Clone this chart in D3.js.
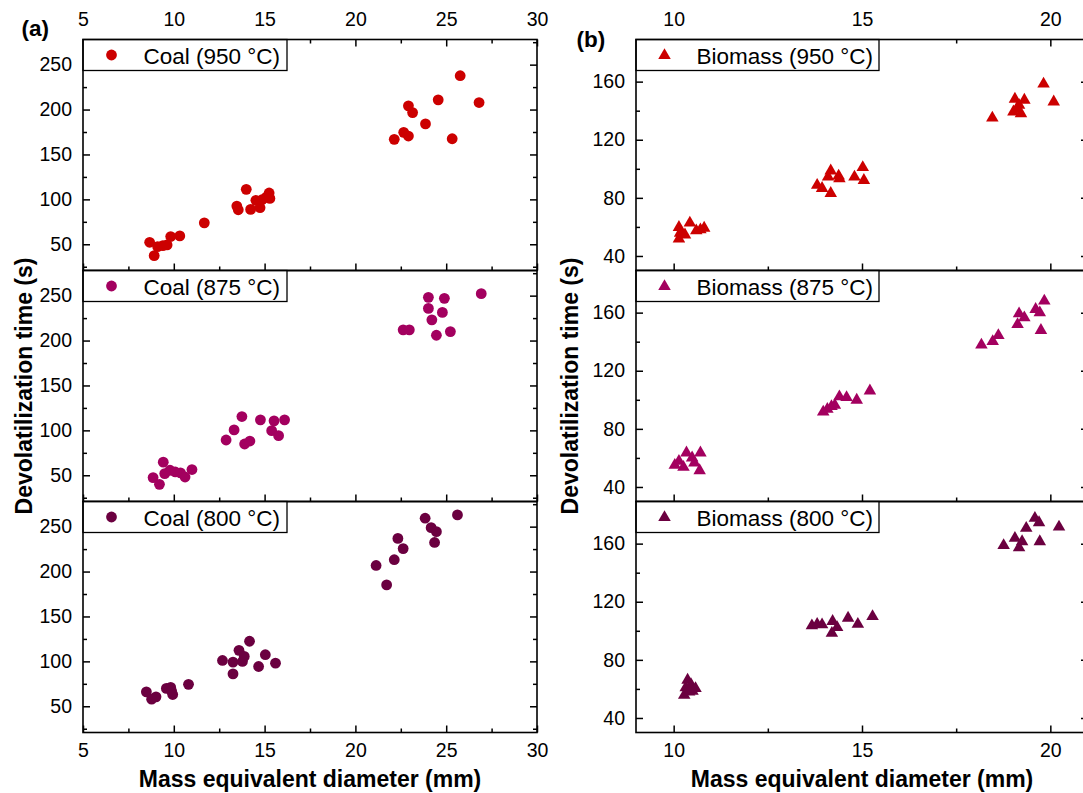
<!DOCTYPE html>
<html>
<head>
<meta charset="utf-8">
<script src="https://cdn.jsdelivr.net/npm/d3@7/dist/d3.min.js"></script>
<style>
  html, body { margin: 0; padding: 0; background: #fff; }
  svg { display: block; }
  text { font-family: "Liberation Sans", Arial, sans-serif; fill: #000; }
</style>
</head>
<body>
<svg id="chart" width="1083" height="793"></svg>
<script>
// ---------------- DATA ----------------
const coal950X = [8.67, 8.92, 9.11, 9.40, 9.63, 9.83, 10.33, 11.68, 13.47, 13.55, 13.99, 14.23, 14.52, 14.75, 14.86, 15.10, 15.25, 15.29, 22.14, 22.66, 22.92, 22.92, 23.15, 23.86, 24.56, 25.33, 25.77, 26.81];
const coal950Y = [52.2, 37.3, 47.4, 48.5, 49.3, 58.6, 59.3, 73.9, 92.5, 88.4, 111.2, 88.8, 98.9, 90.7, 99.6, 102.6, 107.1, 101.1, 166.8, 174.6, 170.5, 204.1, 196.6, 184.0, 210.8, 167.5, 237.7, 207.8];

const coal875X = [8.86, 9.21, 9.42, 9.50, 9.79, 10.08, 10.37, 10.62, 11.00, 12.88, 13.32, 13.75, 13.90, 14.19, 14.77, 15.39, 15.52, 15.77, 16.10, 22.63, 22.97, 24.02, 24.02, 24.21, 24.46, 24.79, 24.90, 25.23, 26.93];
const coal875Y = [47.4, 39.9, 64.6, 51.9, 55.6, 53.7, 52.6, 48.1, 56.4, 89.3, 100.5, 115.4, 84.8, 88.1, 111.7, 99.7, 110.6, 94.1, 111.7, 211.9, 211.9, 248.1, 235.8, 223.1, 205.9, 231.3, 247.0, 210.0, 252.2];

const coal800X = [8.49, 8.78, 9.02, 9.59, 9.83, 9.88, 9.94, 10.81, 12.68, 13.26, 13.26, 13.59, 13.78, 13.88, 14.17, 14.67, 15.04, 15.60, 21.14, 21.72, 22.14, 22.34, 22.63, 23.84, 24.17, 24.46, 24.36, 25.62];
const coal800Y = [66.1, 57.9, 60.5, 69.9, 71.0, 66.9, 63.1, 74.4, 101.0, 99.2, 86.0, 112.3, 99.9, 105.5, 122.4, 94.3, 107.4, 98.0, 206.8, 185.1, 213.2, 236.9, 225.6, 259.4, 248.9, 244.4, 232.4, 263.1];

const bio950X = [10.14, 10.17, 10.14, 10.30, 10.43, 10.60, 10.71, 10.81, 13.81, 13.94, 14.17, 14.10, 14.17, 14.38, 14.40, 14.80, 15.02, 15.05, 18.46, 19.02, 19.06, 19.11, 19.22, 19.17, 19.31, 19.82, 20.09];
const bio950Y = [51.8, 55.8, 59.7, 54.6, 62.7, 57.4, 58.1, 59.2, 88.7, 86.6, 83.1, 94.4, 98.6, 95.1, 93.3, 94.4, 100.9, 92.1, 135.0, 139.2, 148.0, 141.5, 138.0, 143.8, 147.3, 158.4, 146.1];

const bio875X = [10.03, 10.14, 10.26, 10.34, 10.49, 10.55, 10.69, 10.71, 13.97, 14.08, 14.19, 14.28, 14.40, 14.59, 14.86, 15.21, 18.17, 18.47, 18.62, 19.13, 19.17, 19.31, 19.61, 19.72, 19.75, 19.84];
const bio875Y = [55.0, 57.8, 53.6, 63.5, 60.1, 56.6, 51.3, 63.5, 91.7, 93.5, 95.4, 96.3, 102.1, 101.6, 99.8, 106.2, 137.8, 140.2, 144.3, 151.9, 159.3, 156.5, 162.3, 160.0, 147.8, 168.1];

const bio800X = [10.28, 10.37, 10.32, 10.46, 10.50, 10.58, 10.41, 13.67, 13.81, 13.94, 14.22, 14.20, 14.34, 14.63, 14.89, 15.28, 18.76, 19.06, 19.17, 19.25, 19.36, 19.59, 19.70, 19.72, 20.23];
const bio800Y = [55.7, 66.1, 60.8, 63.1, 58.5, 60.3, 58.0, 103.5, 104.6, 104.2, 106.5, 98.4, 102.3, 108.8, 104.6, 109.9, 158.8, 163.7, 157.2, 161.4, 170.6, 177.5, 174.5, 161.4, 171.5];

const coalLabels = ["Coal (950 °C)", "Coal (875 °C)", "Coal (800 °C)"];
const bioLabels = ["Biomass (950 °C)", "Biomass (875 °C)", "Biomass (800 °C)"];
const seriesColors = ["#cc0000", "#a3005f", "#6b0040"];

const coalXTicks = [5, 10, 15, 20, 25, 30];
const coalXMinor = [7.5, 12.5, 17.5, 22.5, 27.5];
const coalYTicks = [50, 100, 150, 200, 250];
const coalYMinor = [25, 75, 125, 175, 225, 275];
const bioXTicks = [10, 15, 20];
const bioXMinor = [12.5, 17.5];
const bioYTicks = [40, 80, 120, 160];
const bioYMinor = [60, 100, 140, 180];

const xTitle = "Mass equivalent diameter (mm)";
const yTitle = "Devolatilization time (s)";

// ---------------- LAYOUT ----------------
const svg = d3.select("#chart");
const FONT = '"Liberation Sans", Arial, sans-serif';
const rowTop = 39.5, rowH = 231;

const panels = [
  {
    key: "a", x0: 83, x1: 537, xDomain: [5, 30], yDomain: [20.8, 278],
    xTicks: coalXTicks, xMinor: coalXMinor, yTicks: coalYTicks, yMinor: coalYMinor,
    series: [[coal950X, coal950Y], [coal875X, coal875Y], [coal800X, coal800Y]],
    labels: coalLabels, shape: "circle", legendW: 204,
    tag: "(a)", tagX: 21.5, tagY: 36, yTitleX: 32
  },
  {
    key: "b", x0: 636, x1: 1088, xDomain: [9, 21], yDomain: [30, 189],
    xTicks: bioXTicks, xMinor: bioXMinor, yTicks: bioYTicks, yMinor: bioYMinor,
    series: [[bio950X, bio950Y], [bio875X, bio875Y], [bio800X, bio800Y]],
    labels: bioLabels, shape: "triangle", legendW: 243,
    tag: "(b)", tagX: 576.5, tagY: 46.5, yTitleX: 578
  }
];

const clip = svg.append("defs");

panels.forEach(p => {
  const x = d3.scaleLinear().domain(p.xDomain).range([p.x0, p.x1]);
  for (let r = 0; r < 3; r++) {
    const top = rowTop + r * rowH, bot = top + rowH;
    const y = d3.scaleLinear().domain(p.yDomain).range([bot, top]);
    const g = svg.append("g");
    const cid = "clip-" + p.key + r;
    clip.append("clipPath").attr("id", cid).append("rect")
      .attr("x", p.x0).attr("y", top).attr("width", p.x1 - p.x0).attr("height", rowH);

    // axes: left
    const axL = g.append("g").attr("transform", `translate(${p.x0},0)`)
      .call(d3.axisLeft(y).tickValues(p.yTicks).tickSize(-7).tickPadding(11));
    g.append("g").attr("transform", `translate(${p.x0},0)`)
      .call(d3.axisLeft(y).tickValues(p.yMinor).tickSize(-4).tickFormat(""));
    // right
    g.append("g").attr("transform", `translate(${p.x1},0)`)
      .call(d3.axisRight(y).tickValues(p.yTicks).tickSize(-7).tickFormat(""));
    g.append("g").attr("transform", `translate(${p.x1},0)`)
      .call(d3.axisRight(y).tickValues(p.yMinor).tickSize(-4).tickFormat(""));
    // bottom
    const bAx = d3.axisBottom(x).tickValues(p.xTicks).tickSize(-7).tickPadding(11);
    if (r < 2) bAx.tickFormat("");
    g.append("g").attr("transform", `translate(0,${bot})`).call(bAx);
    g.append("g").attr("transform", `translate(0,${bot})`)
      .call(d3.axisBottom(x).tickValues(p.xMinor).tickSize(-4).tickFormat(""));
    // top (only first row)
    if (r === 0) {
      g.append("g").attr("transform", `translate(0,${top})`)
        .call(d3.axisTop(x).tickValues(p.xTicks).tickSize(-7).tickPadding(14));
      g.append("g").attr("transform", `translate(0,${top})`)
        .call(d3.axisTop(x).tickValues(p.xMinor).tickSize(-4).tickFormat(""));
    }
    g.selectAll(".domain").remove();
    g.selectAll(".tick line").attr("stroke", "#000").attr("stroke-width", 1.5);
    g.selectAll(".tick text").attr("font-family", FONT).attr("font-size", 19.5).attr("fill", "#000");

    // data
    const [xs, ys] = p.series[r];
    const pts = xs.map((v, i) => [v, ys[i]]);
    const color = seriesColors[r];
    const dg = g.append("g").attr("clip-path", `url(#${cid})`);
    if (p.shape === "circle") {
      dg.selectAll("circle").data(pts).join("circle")
        .attr("cx", d => x(d[0])).attr("cy", d => y(d[1]))
        .attr("r", 5.4).attr("fill", color);
    } else {
      const sym = d3.symbol().type(d3.symbolTriangle).size(68);
      dg.selectAll("path").data(pts).join("path")
        .attr("d", sym)
        .attr("transform", d => `translate(${x(d[0])},${y(d[1])})`)
        .attr("fill", color);
    }

    // legend
    const lg = g.append("g");
    lg.append("rect").attr("x", p.x0).attr("y", top)
      .attr("width", p.legendW).attr("height", 31)
      .attr("fill", "#fff").attr("stroke", "#000").attr("stroke-width", 1.3);
    if (p.shape === "circle") {
      lg.append("circle").attr("cx", p.x0 + 28.5).attr("cy", top + 15.5).attr("r", 5.4).attr("fill", color);
    } else {
      lg.append("path").attr("d", d3.symbol().type(d3.symbolTriangle).size(68)())
        .attr("transform", `translate(${p.x0 + 28.5},${top + 16})`).attr("fill", color);
    }
    lg.append("text").attr("x", p.x0 + 60.5).attr("y", top + 24)
      .attr("font-size", 22.5).text(p.labels[r]);

    // frame
    g.append("rect").attr("x", p.x0).attr("y", top)
      .attr("width", p.x1 - p.x0).attr("height", rowH)
      .attr("fill", "none").attr("stroke", "#000").attr("stroke-width", 1.6);
  }

  // titles
  svg.append("text").attr("x", (p.x0 + p.x1) / 2 + (p.key === "b" ? -0 : 0)).attr("y", 786.5)
    .attr("text-anchor", "middle").attr("font-weight", "bold").attr("font-size", 23)
    .text(xTitle);
  svg.append("text")
    .attr("transform", `translate(${p.yTitleX},${rowTop + 1.5 * rowH}) rotate(-90)`)
    .attr("text-anchor", "middle").attr("font-weight", "bold").attr("font-size", 23)
    .text(yTitle);
  svg.append("text").attr("x", p.tagX).attr("y", p.tagY)
    .attr("font-weight", "bold").attr("font-size", 22.5).text(p.tag);
});
</script>
</body>
</html>
